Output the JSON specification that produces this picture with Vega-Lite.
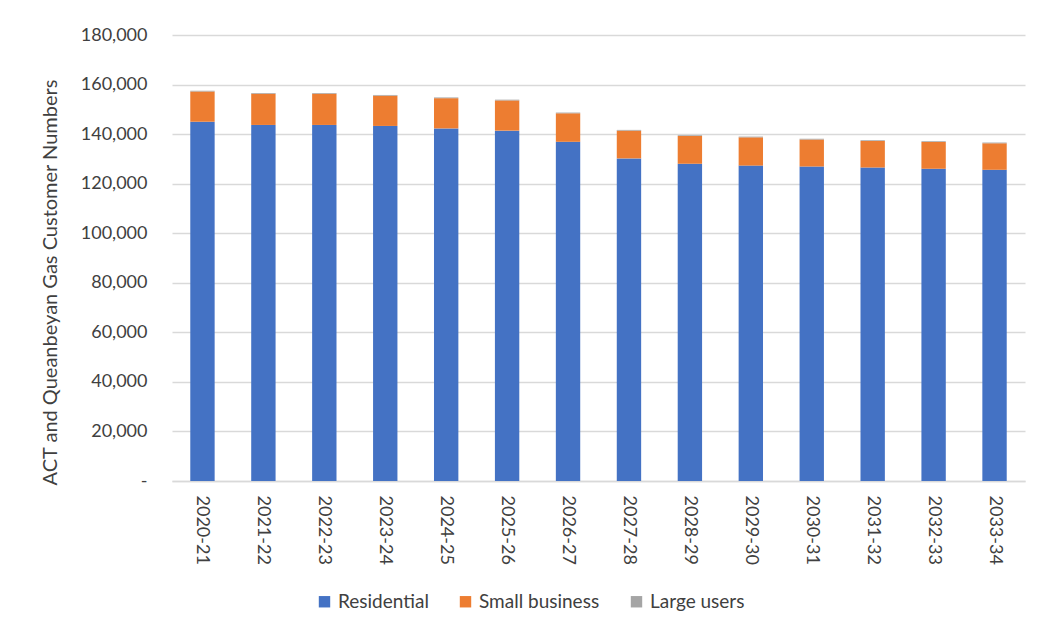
{
  "$schema": "https://vega.github.io/schema/vega-lite/v6.json",
  "width": 853,
  "height": 446,
  "autosize": {"type": "none"},
  "padding": {"left": 172, "top": 35, "right": 15, "bottom": 151},
  "background": "white",
  "data": {
    "values": [
      {"year": "2020-21", "type": "Residential", "ord": 1, "value": 145000},
      {"year": "2020-21", "type": "Small business", "ord": 2, "value": 12200},
      {"year": "2020-21", "type": "Large users", "ord": 3, "value": 300},
      {"year": "2021-22", "type": "Residential", "ord": 1, "value": 143700},
      {"year": "2021-22", "type": "Small business", "ord": 2, "value": 12600},
      {"year": "2021-22", "type": "Large users", "ord": 3, "value": 300},
      {"year": "2022-23", "type": "Residential", "ord": 1, "value": 143700},
      {"year": "2022-23", "type": "Small business", "ord": 2, "value": 12600},
      {"year": "2022-23", "type": "Large users", "ord": 3, "value": 300},
      {"year": "2023-24", "type": "Residential", "ord": 1, "value": 143300},
      {"year": "2023-24", "type": "Small business", "ord": 2, "value": 12200},
      {"year": "2023-24", "type": "Large users", "ord": 3, "value": 300},
      {"year": "2024-25", "type": "Residential", "ord": 1, "value": 142300},
      {"year": "2024-25", "type": "Small business", "ord": 2, "value": 12200},
      {"year": "2024-25", "type": "Large users", "ord": 3, "value": 300},
      {"year": "2025-26", "type": "Residential", "ord": 1, "value": 141400},
      {"year": "2025-26", "type": "Small business", "ord": 2, "value": 12200},
      {"year": "2025-26", "type": "Large users", "ord": 3, "value": 300},
      {"year": "2026-27", "type": "Residential", "ord": 1, "value": 136900},
      {"year": "2026-27", "type": "Small business", "ord": 2, "value": 11500},
      {"year": "2026-27", "type": "Large users", "ord": 3, "value": 300},
      {"year": "2027-28", "type": "Residential", "ord": 1, "value": 130200},
      {"year": "2027-28", "type": "Small business", "ord": 2, "value": 11200},
      {"year": "2027-28", "type": "Large users", "ord": 3, "value": 300},
      {"year": "2028-29", "type": "Residential", "ord": 1, "value": 128000},
      {"year": "2028-29", "type": "Small business", "ord": 2, "value": 11200},
      {"year": "2028-29", "type": "Large users", "ord": 3, "value": 300},
      {"year": "2029-30", "type": "Residential", "ord": 1, "value": 127300},
      {"year": "2029-30", "type": "Small business", "ord": 2, "value": 11400},
      {"year": "2029-30", "type": "Large users", "ord": 3, "value": 300},
      {"year": "2030-31", "type": "Residential", "ord": 1, "value": 126900},
      {"year": "2030-31", "type": "Small business", "ord": 2, "value": 10900},
      {"year": "2030-31", "type": "Large users", "ord": 3, "value": 300},
      {"year": "2031-32", "type": "Residential", "ord": 1, "value": 126500},
      {"year": "2031-32", "type": "Small business", "ord": 2, "value": 10700},
      {"year": "2031-32", "type": "Large users", "ord": 3, "value": 300},
      {"year": "2032-33", "type": "Residential", "ord": 1, "value": 126000},
      {"year": "2032-33", "type": "Small business", "ord": 2, "value": 10800},
      {"year": "2032-33", "type": "Large users", "ord": 3, "value": 300},
      {"year": "2033-34", "type": "Residential", "ord": 1, "value": 125600},
      {"year": "2033-34", "type": "Small business", "ord": 2, "value": 10700},
      {"year": "2033-34", "type": "Large users", "ord": 3, "value": 300}
    ]
  },
  "mark": {"type": "bar"},
  "encoding": {
    "x": {
      "field": "year",
      "type": "nominal",
      "sort": null,
      "scale": {"paddingInner": 0.6, "paddingOuter": 0.3},
      "axis": {
        "title": null,
        "labelAngle": 90,
        "labelAlign": "left",
        "labelBaseline": "middle",
        "labelPadding": 14,
        "labelFontSize": 18,
        "labelColor": "#404040",
        "ticks": false,
        "domainColor": "#d9d9d9",
        "domainWidth": 1.5
      }
    },
    "y": {
      "field": "value",
      "type": "quantitative",
      "stack": "zero",
      "scale": {"domain": [0, 180000], "nice": false},
      "axis": {
        "title": "ACT and Queanbeyan Gas Customer Numbers",
        "titleFontSize": 20,
        "titleFontWeight": "normal",
        "titleColor": "#404040",
        "titlePadding": 20,
        "titleY": 247,
        "values": [0, 20000, 40000, 60000, 80000, 100000, 120000, 140000, 160000, 180000],
        "labelExpr": "datum.value == 0 ? '-' : format(datum.value, ',')",
        "labelFontSize": 18,
        "labelColor": "#404040",
        "labelPadding": 25,
        "ticks": false,
        "domain": false,
        "gridColor": "#d9d9d9",
        "gridWidth": 1.5
      }
    },
    "color": {
      "field": "type",
      "type": "nominal",
      "scale": {
        "domain": ["Residential", "Small business", "Large users"],
        "range": ["#4472C4", "#ED7D31", "#A5A5A5"]
      },
      "legend": {
        "title": null,
        "orient": "none",
        "direction": "horizontal",
        "legendX": 143,
        "legendY": 557,
        "symbolType": "square",
        "symbolSize": 130,
        "symbolStrokeWidth": 0,
        "labelFontSize": 19,
        "labelColor": "#404040",
        "columnPadding": 27,
        "labelOffset": 4
      }
    },
    "order": {"field": "ord", "type": "quantitative"}
  },
  "config": {
    "font": "Lato",
    "view": {"stroke": null}
  }
}
